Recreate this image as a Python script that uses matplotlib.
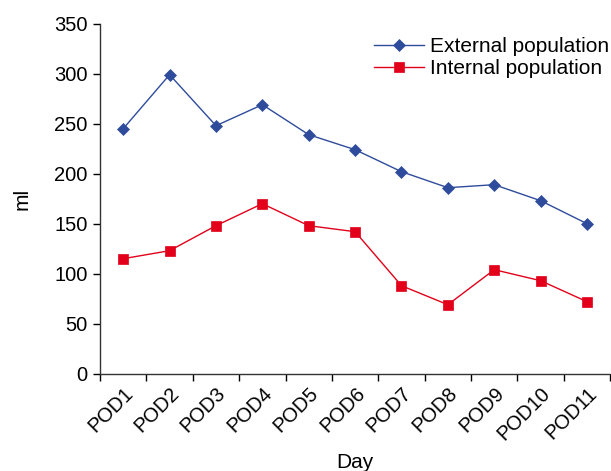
import numpy as np
import matplotlib
matplotlib.use('Agg')
import matplotlib.pyplot as plt

plt.rcParams['font.family'] = ['Liberation Sans', 'DejaVu Sans']

days = ['POD1', 'POD2', 'POD3', 'POD4', 'POD5', 'POD6', 'POD7', 'POD8', 'POD9', 'POD10', 'POD11']
external = [245, 299, 248, 269, 239, 224, 202, 186, 189, 173, 150]
internal = [115, 123, 148, 170, 148, 142, 88, 69, 104, 93, 72]

blue = '#2E4C9B'
red = '#E2001A'

fig = plt.figure(figsize=(6.11, 4.71), dpi=100)
ax = fig.add_axes([0.1637, 0.2066, 0.835, 0.7431])

x = np.arange(len(days))
ax.plot(x, external, '-', color=blue, lw=1.0, marker='D', ms=6.2,
        mec=blue, mew=0.5, label='External population')
ax.plot(x, internal, '-', color=red, lw=1.0, marker='s', ms=7.2,
        mec=red, mew=0.5, label='Internal population')

ax.set_xlim(-0.5, len(days) - 0.5)
ax.set_ylim(0, 350)
ax.set_yticks(range(0, 351, 50))
ax.set_xticks(x)
ax.set_xticklabels(days, rotation=45, ha='right', rotation_mode='anchor', fontsize=14.5)
ax.set_xticks(np.arange(-0.5, len(days), 1), minor=True)
ax.tick_params(axis='x', which='major', length=0, pad=7)
ax.tick_params(axis='x', which='minor', length=5, width=1, direction='out')
ax.tick_params(axis='y', length=5, width=1, direction='out', labelsize=14.5, pad=4)

for s in ['top', 'right']:
    ax.spines[s].set_visible(False)
for s in ['left', 'bottom']:
    ax.spines[s].set_linewidth(1)
    ax.spines[s].set_color('#333333')

ax.set_xlabel('Day', fontsize=15, labelpad=7)
ax.set_ylabel('ml', fontsize=15, labelpad=16)

ax.legend(loc='upper right', bbox_to_anchor=(1.035, 1.015), frameon=False,
          fontsize=15, handlelength=2.4, labelspacing=0.15, handletextpad=0.3)

plt.savefig('out.png', dpi=100)
